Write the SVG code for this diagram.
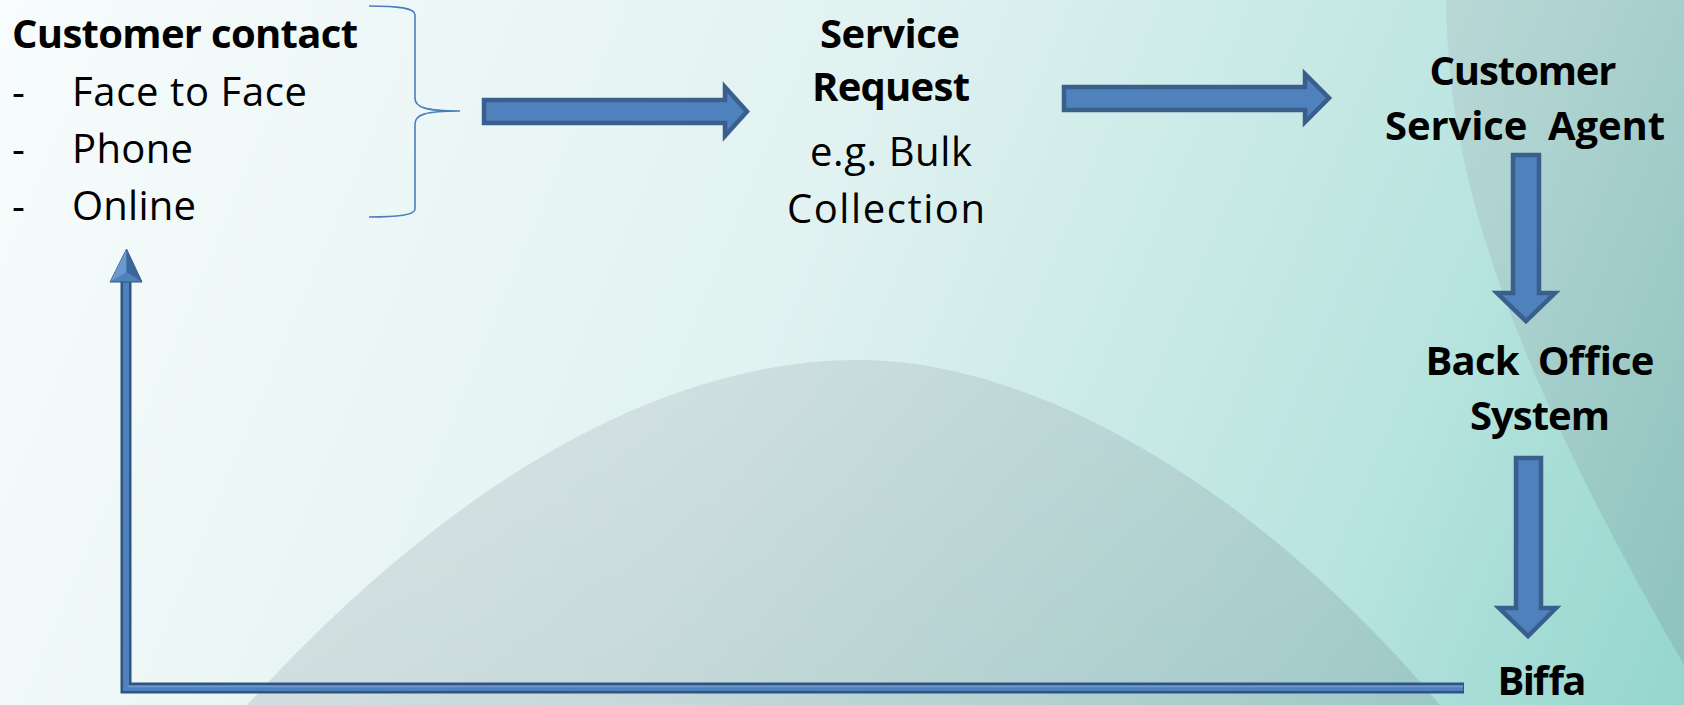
<svg xmlns="http://www.w3.org/2000/svg" width="1684" height="705" viewBox="0 0 1684 705">
  <defs>
    <linearGradient id="bg" x1="0" y1="0" x2="1684" y2="705" gradientUnits="userSpaceOnUse">
      <stop offset="0" stop-color="#f8fcfc"/>
      <stop offset="0.45" stop-color="#e1f2f1"/>
      <stop offset="0.8" stop-color="#b8e4df"/>
      <stop offset="1" stop-color="#94d6ce"/>
    </linearGradient>
    <linearGradient id="shade" x1="0" y1="0" x2="1" y2="1">
      <stop offset="0" stop-color="#9ea4aa" stop-opacity="0.22"/>
      <stop offset="1" stop-color="#7c979c" stop-opacity="0.32"/>
    </linearGradient>
  </defs>
  <style>
    .t { font-family: "Open Sans", Lato, "Liberation Sans", sans-serif; font-size: 40px; fill: #000; }
    .b { font-weight: bold; }
    .blk { fill: #4f81bd; stroke: #3a5f8d; stroke-width: 4.5; stroke-linejoin: miter; }
    .brace { fill: none; stroke: #4a7ebb; stroke-width: 1.6; }
  </style>

  <!-- background -->
  <rect x="0" y="0" width="1684" height="705" fill="url(#bg)"/>
  <path d="M247,705 C480,450 690,360 859,360 C1030,360 1250,480 1440,705 Z" fill="url(#shade)"/>
  <path d="M1446,0 C1448,150 1485,320 1684,665 L1684,0 Z" fill="url(#shade)"/>

  <g id="customer-contact">
    <text class="t b" x="12" y="48" textLength="346" lengthAdjust="spacing">Customer contact</text>
    <text class="t" x="12" y="106">-</text>
    <text class="t" x="72" y="106" textLength="235" lengthAdjust="spacing">Face to Face</text>
    <text class="t" x="12" y="163">-</text>
    <text class="t" x="72" y="163" textLength="121" lengthAdjust="spacing">Phone</text>
    <text class="t" x="12" y="220">-</text>
    <text class="t" x="72" y="220" textLength="124" lengthAdjust="spacing">Online</text>
    <path class="brace" d="M369,6 C398,6 415,8 415,15 L415,98 C415,107 424,111 460,111 C424,111 415,115 415,124 L415,209 C415,215 398,217 369,217"/>
  </g>

  <g id="service-request">
    <text class="t b" x="890" y="48" text-anchor="middle" textLength="140" lengthAdjust="spacing">Service</text>
    <text class="t b" x="891" y="101" text-anchor="middle" textLength="158" lengthAdjust="spacing">Request</text>
    <text class="t" x="891" y="166" text-anchor="middle" textLength="162" lengthAdjust="spacing">e.g. Bulk</text>
    <text class="t" x="886" y="223" text-anchor="middle" textLength="198" lengthAdjust="spacing">Collection</text>
  </g>

  <g id="customer-service-agent">
    <text class="t b" x="1523" y="85" text-anchor="middle" textLength="187" lengthAdjust="spacing">Customer</text>
    <text class="t b" x="1525" y="140" text-anchor="middle" textLength="280" lengthAdjust="spacing" xml:space="preserve">Service  Agent</text>
  </g>

  <g id="back-office-system">
    <text class="t b" x="1540" y="375" text-anchor="middle" textLength="229" lengthAdjust="spacing" xml:space="preserve">Back  Office</text>
    <text class="t b" x="1540" y="430" text-anchor="middle" textLength="140" lengthAdjust="spacing">System</text>
  </g>

  <g id="biffa">
    <text class="t b" x="1542" y="695" text-anchor="middle" textLength="89" lengthAdjust="spacing">Biffa</text>
  </g>

  <g id="connectors">
    <polygon class="blk" points="484,100 725,100 725,87 747,111.5 725,136 725,123 484,123"/>
    <polygon class="blk" points="1064,87 1305,87 1305,74 1329,98 1305,122 1305,110 1064,110"/>
    <polygon class="blk" points="1513,155 1539,155 1539,293 1555,293 1526,321 1497,293 1513,293"/>
    <polygon class="blk" points="1516,458 1541,458 1541,608 1556,608 1528,636 1499,608 1516,608"/>
    <!-- return connector Biffa -> Customer contact -->
    <path d="M1464,688 L126,688 L126,280" fill="none" stroke="#2f5482" stroke-width="11" stroke-linejoin="miter"/>
    <path d="M1463,688 L126,688 L126,280" fill="none" stroke="#4f81bd" stroke-width="6" stroke-linejoin="miter"/>
    <path d="M1463,686.5 L127.5,686.5" fill="none" stroke="#6f9bd2" stroke-width="1.5"/>
    <polygon points="110,282 126.5,249 142,282" fill="#4f81bd" stroke="#2f5482" stroke-width="1"/>
    <polygon points="110,282 126.5,249 126.5,272" fill="#6a98d0"/>
    <polygon points="126.5,249 142,282 126.5,272" fill="#3b6699"/>
  </g>
</svg>
